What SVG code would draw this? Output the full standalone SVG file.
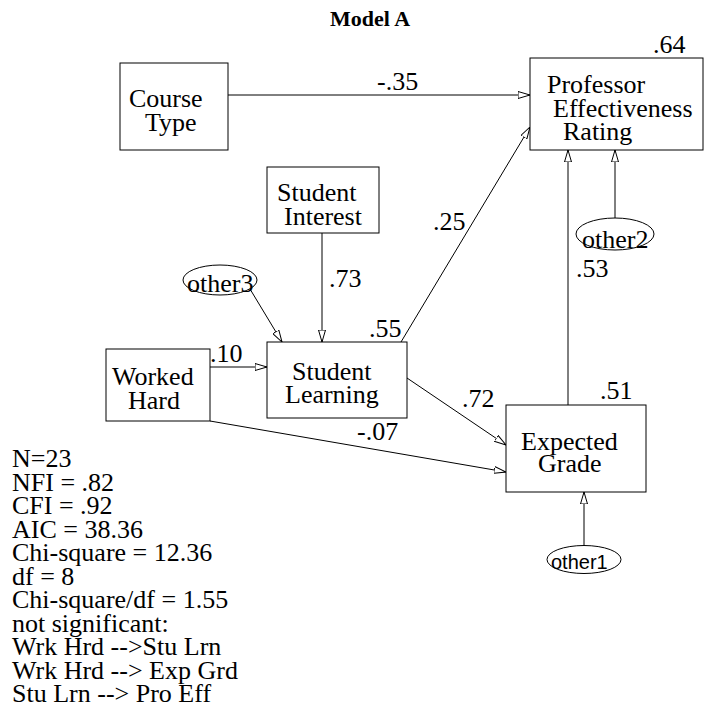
<svg xmlns="http://www.w3.org/2000/svg" width="705" height="708" viewBox="0 0 705 708">
  <style>
    .box { fill: #fff; stroke: #000; stroke-width: 1; }
    .err { fill: #fff; stroke: #000; stroke-width: 1; }
    .t { font-family: "Liberation Serif", "Times New Roman", serif; font-size: 26px; fill: #000; }
    .ts { font-family: "Liberation Sans", Arial, sans-serif; font-size: 20px; fill: #000; }
    .title { font-family: "Liberation Serif", "Times New Roman", serif; font-size: 22px; font-weight: bold; fill: #000; }
    .edge { stroke: #000; stroke-width: 1; fill: none; marker-end: url(#arr); }
  </style>
  <defs>
    <marker id="arr" viewBox="0 0 12 8" refX="12" refY="4" markerWidth="12" markerHeight="8" markerUnits="userSpaceOnUse" orient="auto">
      <path d="M0,0.5 L12,4 L0,7.5 Z" fill="#fff" stroke="#000" stroke-width="1"/>
    </marker>
  </defs>
  <rect width="705" height="708" fill="#fff"/>

  <text class="title" x="330" y="26">Model A</text>

  <!-- path coefficients and connectors -->
  <g id="connectors">
    <line class="edge" x1="228" y1="95" x2="530" y2="95"/>
    <line class="edge" x1="322" y1="233" x2="322" y2="342"/>
    <line class="edge" x1="250" y1="289" x2="282" y2="342"/>
    <line class="edge" x1="210" y1="367" x2="267" y2="367"/>
    <line class="edge" x1="210" y1="421" x2="506" y2="472"/>
    <line class="edge" x1="401" y1="342" x2="530" y2="127"/>
    <line class="edge" x1="407" y1="378" x2="506" y2="445"/>
    <line class="edge" x1="568" y1="405" x2="568" y2="150"/>
    <line class="edge" x1="615" y1="218" x2="615" y2="150"/>
    <line class="edge" x1="584" y1="546" x2="584" y2="492"/>
    <text class="t" x="377" y="90">-.35</text>
    <text class="t" x="433" y="230">.25</text>
    <text class="t" x="329" y="287">.73</text>
    <text class="t" x="210" y="362">.10</text>
    <text class="t" x="462" y="407">.72</text>
    <text class="t" x="357" y="440">-.07</text>
    <text class="t" x="576" y="277">.53</text>
  </g>

  <g id="course-type">
    <rect class="box" x="120" y="63" width="108" height="87"/>
    <text class="t" x="129" y="107">Course</text>
    <text class="t" x="145" y="131">Type</text>
  </g>

  <g id="professor-effectiveness">
    <rect class="box" x="530" y="58" width="173" height="92"/>
    <text class="t" x="653" y="53">.64</text>
    <text class="t" x="547" y="93">Professor</text>
    <text class="t" x="553" y="117">Effectiveness</text>
    <text class="t" x="563" y="140">Rating</text>
  </g>

  <g id="student-interest">
    <rect class="box" x="267" y="167" width="112" height="66"/>
    <text class="t" x="277" y="201">Student</text>
    <text class="t" x="284" y="225">Interest</text>
  </g>

  <g id="other3">
    <ellipse class="err" cx="220" cy="280" rx="37" ry="15"/>
    <text class="t" x="187" y="292">other3</text>
  </g>

  <g id="student-learning">
    <rect class="box" x="267" y="342" width="140" height="76"/>
    <text class="t" x="369" y="337">.55</text>
    <text class="t" x="292" y="380">Student</text>
    <text class="t" x="285" y="403">Learning</text>
  </g>

  <g id="worked-hard">
    <rect class="box" x="106" y="349" width="104" height="72"/>
    <text class="t" x="112" y="385">Worked</text>
    <text class="t" x="128" y="409">Hard</text>
  </g>

  <g id="other2">
    <ellipse class="err" cx="615" cy="234" rx="39" ry="16"/>
    <text class="t" x="582" y="248">other2</text>
  </g>

  <g id="expected-grade">
    <rect class="box" x="506" y="405" width="140" height="87"/>
    <text class="t" x="600" y="399">.51</text>
    <text class="t" x="521" y="450">Expected</text>
    <text class="t" x="538" y="472">Grade</text>
  </g>

  <g id="other1">
    <ellipse class="err" cx="584" cy="559.5" rx="37" ry="14"/>
    <text class="ts" x="551" y="569">other1</text>
  </g>

  <g id="fit-statistics">
    <text class="t" x="12" y="467">N=23</text>
    <text class="t" x="12" y="490.5">NFI = .82</text>
    <text class="t" x="12" y="514">CFI = .92</text>
    <text class="t" x="12" y="537.5">AIC = 38.36</text>
    <text class="t" x="12" y="561">Chi-square = 12.36</text>
    <text class="t" x="12" y="584.5">df = 8</text>
    <text class="t" x="12" y="608">Chi-square/df = 1.55</text>
    <text class="t" x="12" y="631.5">not significant:</text>
    <text class="t" x="12" y="655">Wrk Hrd --&gt;Stu Lrn</text>
    <text class="t" x="12" y="678.5">Wrk Hrd --&gt; Exp Grd</text>
    <text class="t" x="12" y="702">Stu Lrn --&gt; Pro Eff</text>
  </g>
</svg>
